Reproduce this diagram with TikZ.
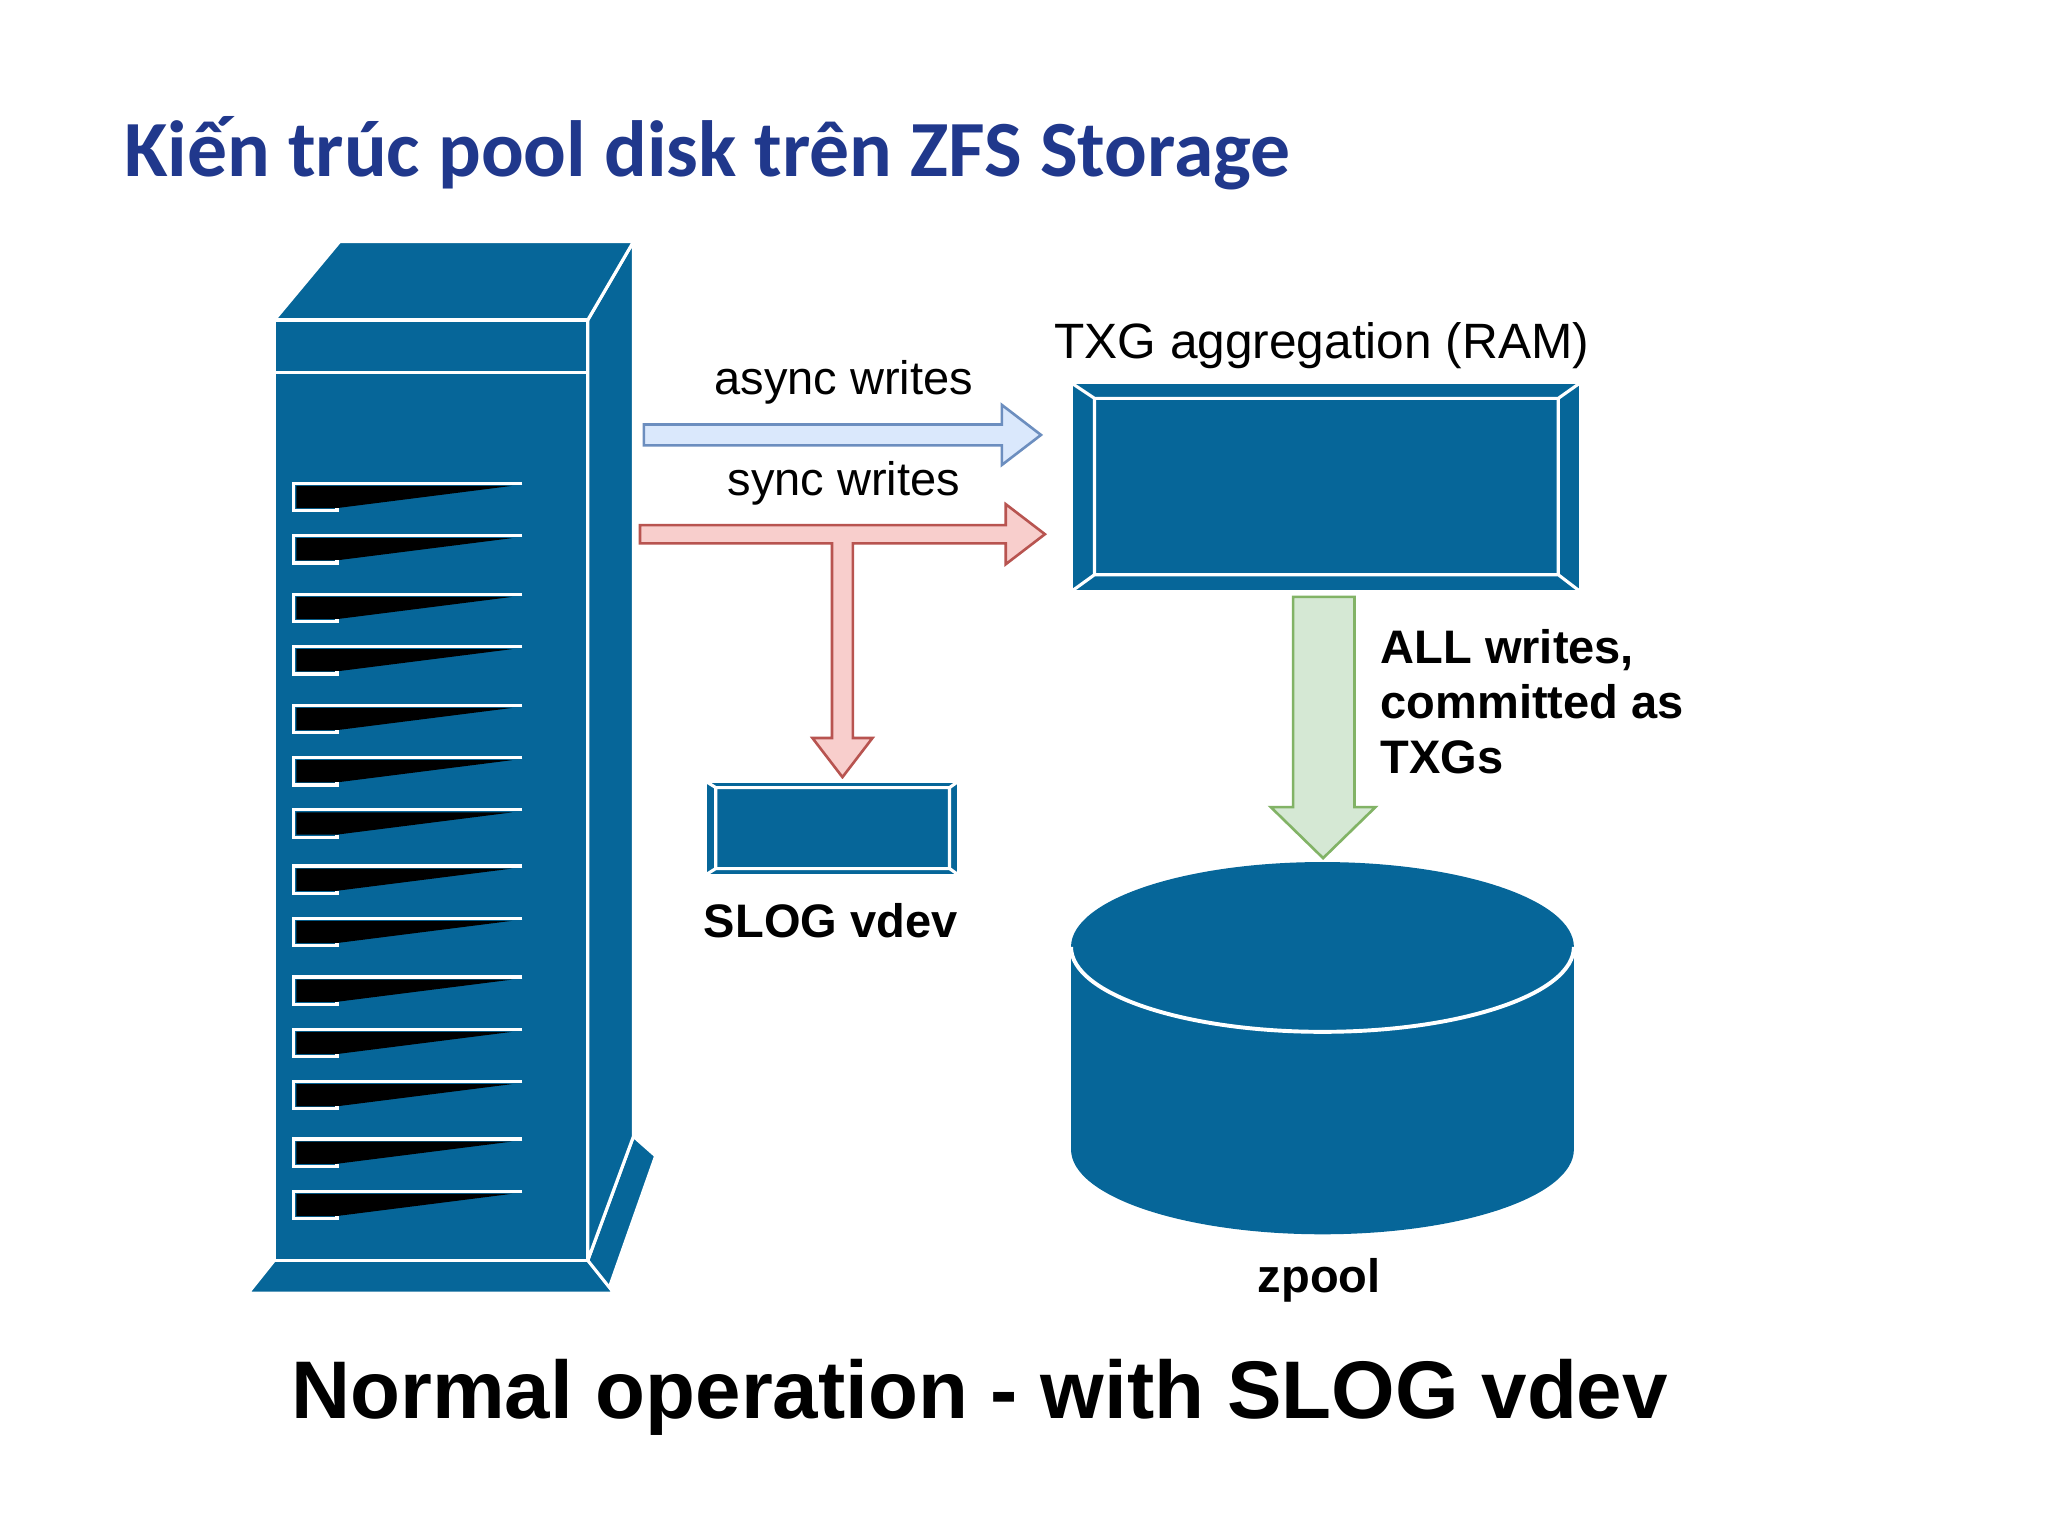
\documentclass[tikz,border=0pt]{standalone}
\usepackage{fontspec}
\setmainfont{Liberation Sans}
\newfontfamily\titlefont{Carlito}
\definecolor{zblue}{RGB}{6,102,153}
\definecolor{ttl}{RGB}{32,56,140}
\definecolor{abf}{RGB}{218,232,252}\definecolor{abd}{RGB}{108,142,191}
\definecolor{sf}{RGB}{248,206,204}\definecolor{sd}{RGB}{184,84,80}
\definecolor{gf}{RGB}{213,232,212}\definecolor{gd}{RGB}{130,179,102}
\tikzset{blk/.style={fill=zblue,draw=white,line width=1.2pt,line join=round},
 lbl/.style={font=\fontsize{18pt}{20pt}\selectfont},
 blbl/.style={font=\bfseries\fontsize{18pt}{21pt}\selectfont}}
\begin{document}
\begin{tikzpicture}[x=0.5pt,y=-0.5pt]
\useasboundingbox[fill=white] (0,0) rectangle (1568,1176);
\node[anchor=base west,text=ttl,font=\titlefont\bfseries\fontsize{30.5pt}{34pt}\selectfont] (title) at (88,135) {Kiến trúc pool disk trên ZFS Storage};
% tower
\draw[blk] (485,870)--(502,885)--(465,990)--(450,965)--cycle;
\draw[blk] (190,990)--(470,990)--(450,965)--(210,965)--cycle;
\draw[blk] (450,245)--(485,185)--(485,870)--(450,965)--cycle;
\draw[blk] (210,245)--(260,185)--(485,185)--(450,245)--cycle;
\draw[blk] (210,245) rectangle (450,965);
\draw[white,line width=1.2pt] (210,285)--(450,285);
\foreach \y in {370,410,455,495,540,580,620,663,703,748,788,828,872,912}{
  \fill[black] (227,\y+2)--(392,\y+2)--(258,\y+19)--(227,\y+19)--cycle;
  \draw[white,line width=1.2pt] (400,\y)--(225,\y)--(225,\y+21)--(258,\y+21)--(258,\y+19);
}
% arrows
\draw[fill=abf,draw=abd,line width=1pt,line join=miter] (493,325)--(767,325)--(767,310)--(797,333)--(767,356)--(767,341)--(493,341)--cycle;
\draw[fill=sf,draw=sd,line width=1pt] (490,402)--(770,402)--(770,386)--(800,409)--(770,432)--(770,416)--(653,416)--(653,565)--(668,565)--(645,595)--(622,565)--(637,565)--(637,416)--(490,416)--cycle;
\draw[fill=gf,draw=gd,line width=1pt] (990,457)--(1037,457)--(1037,618)--(1053,618)--(1013,657)--(973,618)--(990,618)--cycle;
% TXG box
\draw[blk] (820,293) rectangle (1210,453);
\draw[white,line width=1.2pt] (838,305) rectangle (1193,440)
 (820,293)--(838,305) (1210,293)--(1193,305) (820,453)--(838,440) (1210,453)--(1193,440);
\node[font=\fontsize{19pt}{21pt}\selectfont] (txg) at (1012,265) {TXG aggregation (RAM)};
% SLOG box
\draw[blk] (540,598) rectangle (734,670);
\draw[white,line width=1.2pt] (548,603) rectangle (727,665)
 (540,598)--(548,603) (734,598)--(727,603) (540,670)--(548,665) (734,670)--(727,665);
\node[blbl] (slog) at (636,705) {SLOG vdev};
% cylinder
\fill[zblue] (820,725) rectangle (1205,880);
\fill[zblue] (1012.5,880) ellipse [x radius=96.25pt,y radius=32.5pt];
\fill[zblue] (1012.5,725) ellipse [x radius=96.25pt,y radius=32.5pt];
\draw[white,line width=1.5pt] (820,725) arc[start angle=180,end angle=360,x radius=96.25pt,y radius=32.5pt];
\node[blbl] (zpool) at (1010,980) {zpool};
% labels
\node[lbl] (async) at (646,293) {async writes};
\node[lbl] (sync) at (646,370) {sync writes};
\node[blbl,anchor=north west,align=left] (all) at (1050,475) {ALL writes,\\committed as\\TXGs};
\node[font=\bfseries\fontsize{31.3pt}{36pt}\selectfont] (cap) at (750,1070) {Normal operation - with SLOG vdev};
\end{tikzpicture}
\end{document}
